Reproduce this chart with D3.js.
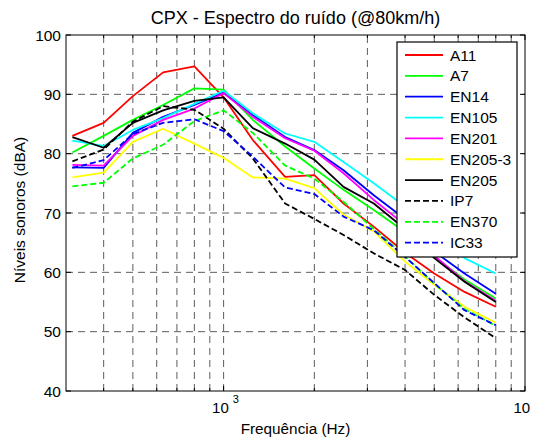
<!DOCTYPE html>
<html><head><meta charset="utf-8">
<script src="https://cdn.jsdelivr.net/npm/d3@7"></script>
<style>
html,body{margin:0;padding:0;background:#fff;}
svg{display:block;font-family:"Liberation Sans",Arial,Helvetica,sans-serif;}
</style></head>
<body><svg id="c" width="533" height="445"></svg>
<script>
const freqs = [315,400,500,630,800,1000,1250,1600,2000,2500,3150,4000,5000,6300,8000];
const seriesNames = ["A11","A7","EN14","EN105","EN201","EN205-3","EN205","IP7","EN370","IC33"];
const seriesColors = ["#ff0000","#00ff00","#0000ff","#00ffff","#ff00ff","#ffff00","#000000","#000000","#00ff00","#0000ff"];
const seriesDashed = [false,false,false,false,false,false,false,true,true,true];
const A11    = [83.0,85.2,89.7,93.7,94.7,89.5,82.3,76.1,76.4,71.6,67.7,63.3,59.8,56.7,54.2];
const A7     = [80.2,83.0,85.7,88.2,91.0,90.8,85.7,81.2,77.5,73.9,70.5,66.8,62.6,58.8,55.6];
const EN14   = [77.7,77.6,83.5,86.2,88.2,90.3,86.5,82.8,80.6,77.2,73.0,69.0,63.5,59.8,56.4];
const EN105  = [82.2,81.3,84.0,86.0,88.4,90.6,86.8,83.4,82.0,78.6,75.0,71.1,66.5,62.4,59.8];
const EN201  = [78.1,78.0,83.0,85.7,87.6,90.2,86.2,82.6,80.5,76.7,72.2,68.0,62.8,58.5,55.2];
const EN205_3= [76.0,76.8,82.0,84.2,81.7,79.3,76.0,75.8,74.2,69.7,66.9,61.8,57.9,54.2,51.5];
const EN205  = [82.8,81.0,85.2,87.3,88.9,89.5,84.3,81.7,79.0,74.4,71.6,67.3,62.4,58.4,55.0];
const IP7    = [78.7,80.7,85.4,88.0,87.4,84.2,79.2,71.6,69.0,66.3,63.2,60.4,56.2,52.4,48.9];
const EN370  = [74.5,75.1,79.2,81.5,85.5,87.3,83.5,78.0,75.8,71.9,67.3,62.7,58.1,53.8,51.0];
const IC33   = [77.6,78.9,83.3,85.2,85.8,83.8,79.5,74.3,73.2,69.4,67.1,62.6,58.2,53.6,51.1];
const seriesValues = [A11,A7,EN14,EN105,EN201,EN205_3,EN205,IP7,EN370,IC33];
const yTicks = [40,50,60,70,80,90,100];
const xMajor = [1000,10000];
const xMinor = [400,500,600,700,800,900,2000,3000,4000,5000,6000,7000,8000,9000];

const svg = d3.select("#c");
const L=66,R=525,T=35,B=391;
const x = d3.scaleLog().domain([300,10000]).range([L,R]);
const y = d3.scaleLinear().domain([40,100]).range([B,T]);

// grid
const grid = svg.append("g").attr("stroke","#000").attr("stroke-width",0.8).attr("stroke-dasharray","7,5").attr("opacity",0.8);
xMinor.concat([1000]).forEach(f=>{
  grid.append("line").attr("x1",x(f)).attr("x2",x(f)).attr("y1",B).attr("y2",T);
});
yTicks.filter(v=>v>40&&v<100).forEach(v=>{
  grid.append("line").attr("x1",L).attr("x2",R).attr("y1",y(v)).attr("y2",y(v));
});

// lines
const line = d3.line().x((d,i)=>x(freqs[i])).y(d=>y(d));
seriesValues.forEach((vals,k)=>{
  svg.append("path").datum(vals).attr("d",line).attr("fill","none")
    .attr("stroke",seriesColors[k]).attr("stroke-width",1.8)
    .attr("stroke-dasharray",seriesDashed[k]?"6,3":null)
    .attr("stroke-linejoin","round");
});

// axes box and ticks
const ax = svg.append("g");
ax.append("rect").attr("x",L).attr("y",T).attr("width",R-L).attr("height",B-T)
  .attr("fill","none").attr("stroke","#000").attr("stroke-width",1);
const tk = ax.append("g").attr("stroke","#000").attr("stroke-width",1);
yTicks.forEach(v=>{
  tk.append("line").attr("x1",L).attr("x2",L+5).attr("y1",y(v)).attr("y2",y(v));
  tk.append("line").attr("x1",R).attr("x2",R-5).attr("y1",y(v)).attr("y2",y(v));
});
xMajor.forEach(f=>{
  tk.append("line").attr("x1",x(f)).attr("x2",x(f)).attr("y1",B).attr("y2",B-5);
  tk.append("line").attr("x1",x(f)).attr("x2",x(f)).attr("y1",T).attr("y2",T+5);
});
xMinor.forEach(f=>{
  tk.append("line").attr("x1",x(f)).attr("x2",x(f)).attr("y1",B).attr("y2",B-3);
  tk.append("line").attr("x1",x(f)).attr("x2",x(f)).attr("y1",T).attr("y2",T+3);
});

// y tick labels
yTicks.forEach(v=>{
  svg.append("text").attr("x",L-5).attr("y",y(v)+5.5).attr("text-anchor","end")
    .attr("font-size",15.5).text(v);
});
// x tick labels
xMajor.forEach(f=>{
  const t = svg.append("text").attr("x",x(f)-11.5).attr("y",413).attr("font-size",15);
  t.append("tspan").text("10");
  t.append("tspan").attr("dy",-10).attr("dx",4).attr("font-size",11).text(Math.round(Math.log10(f)));
});

// titles
svg.append("text").attr("x",(L+R)/2).attr("y",24).attr("text-anchor","middle").attr("font-size",18)
  .text("CPX - Espectro do ruído (@80km/h)");
svg.append("text").attr("x",(L+R)/2).attr("y",434).attr("text-anchor","middle").attr("font-size",15.3)
  .text("Frequência (Hz)");
svg.append("text").attr("transform",`translate(25,${(T+B)/2 - 3}) rotate(-90)`).attr("text-anchor","middle").attr("font-size",15.5)
  .text("Níveis sonoros (dBA)");

// legend
const lg = svg.append("g");
lg.append("rect").attr("x",397).attr("y",42).attr("width",120).attr("height",215)
  .attr("fill","#fff").attr("stroke","#000").attr("stroke-width",1.2);
seriesNames.forEach((n,k)=>{
  const yy = 55 + k*20.85;
  lg.append("line").attr("x1",405).attr("x2",443).attr("y1",yy).attr("y2",yy)
    .attr("stroke",seriesColors[k]).attr("stroke-width",1.8)
    .attr("stroke-dasharray",seriesDashed[k]?"6,3":null);
  lg.append("text").attr("x",450).attr("y",yy+5.5).attr("font-size",15.5).text(n);
});
</script></body></html>
